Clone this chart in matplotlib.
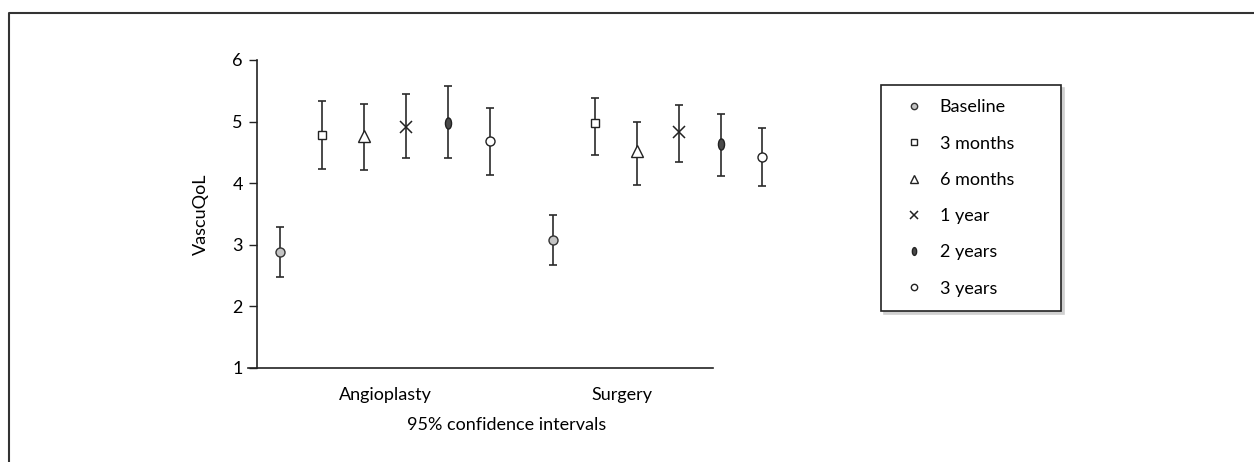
import numpy as np
import matplotlib
matplotlib.use("Agg")
import matplotlib.pyplot as plt
from matplotlib.path import Path
from matplotlib.transforms import Affine2D
from matplotlib.lines import Line2D

plt.rcParams['font.family'] = ['Lato', 'DejaVu Sans']

groups = ["Angioplasty", "Surgery"]
timepoints = ["Baseline", "3 months", "6 months", "1 year", "2 years", "3 years"]

# mean VascuQoL and 95% CI per timepoint, [angioplasty, surgery]
means = {
    "Baseline": [2.89, 3.08],
    "3 months": [4.78, 4.97],
    "6 months": [4.76, 4.52],
    "1 year":   [4.92, 4.83],
    "2 years":  [4.98, 4.63],
    "3 years":  [4.68, 4.42],
}
lower = {
    "Baseline": [2.48, 2.67],
    "3 months": [4.23, 4.46],
    "6 months": [4.21, 3.97],
    "1 year":   [4.41, 4.35],
    "2 years":  [4.41, 4.11],
    "3 years":  [4.13, 3.95],
}
upper = {
    "Baseline": [3.29, 3.48],
    "3 months": [5.33, 5.39],
    "6 months": [5.29, 4.99],
    "1 year":   [5.44, 5.27],
    "2 years":  [5.57, 5.13],
    "3 years":  [5.22, 4.89],
}

# narrow upright ellipse for the 2-year marker
ellipse = Path.unit_circle().transformed(Affine2D().scale(0.55, 1.0))

styles = {
    "Baseline": dict(marker="o", ms=6.5, mfc="#c4c4c4", mec="#333333"),
    "3 months": dict(marker="s", ms=6, mfc="white", mec="#222222"),
    "6 months": dict(marker="^", ms=9, mfc="white", mec="#222222"),
    "1 year":   dict(marker="x", ms=8, mfc="none", mec="#222222", mew=1.1),
    "2 years":  dict(marker=ellipse, ms=8, mfc="#4a4a4a", mec="#222222"),
    "3 years":  dict(marker="o", ms=6.5, mfc="white", mec="#222222"),
}

fig = plt.figure(figsize=(12.54, 4.62), dpi=100)
ax = fig.add_axes([248 / 1254, 94 / 462, 535 / 1254, 308 / 462])

group_start = [0.0, 6.5]
handles = []
for i, tp in enumerate(timepoints):
    xs = [g + i for g in group_start]
    m = np.array(means[tp])
    err = np.array([m - np.array(lower[tp]), np.array(upper[tp]) - m])
    ax.errorbar(xs, m, yerr=err, fmt="none", ecolor="#2b2b2b",
                elinewidth=1.2, capsize=3, capthick=1.2, zorder=2)
    ax.plot(xs, m, linestyle="none", zorder=3, **styles[tp])
    handles.append(Line2D([], [], linestyle="none", label=tp, **styles[tp]))

ax.set_xlim(-0.77, 11.99)
ax.set_ylim(1, 6)
ax.set_yticks([1, 2, 3, 4, 5, 6])
ax.set_xticks([2.5, 8.15])
ax.set_xticklabels(groups)
ax.tick_params(axis="x", length=0, pad=14, labelsize=13)
ax.tick_params(axis="y", length=6, width=1, pad=4, labelsize=13, color="#222222")

for side in ["top", "right"]:
    ax.spines[side].set_visible(False)
ax.spines["left"].set_position(("data", -0.56))
ax.spines["bottom"].set_bounds(-0.77, 10.33)
for side in ["left", "bottom"]:
    ax.spines[side].set_linewidth(1.2)
    ax.spines[side].set_color("#222222")

ax.set_ylabel("VascuQoL", fontsize=13, labelpad=17)
ax.set_xlabel("95% confidence intervals", fontsize=13)
ax.xaxis.set_label_coords(0.4836, -0.16)

leg = fig.legend(handles=handles, loc="upper left",
                 bbox_to_anchor=(881 / 1254, (462 - 315) / 462, 180 / 1254, 230 / 462),
                 mode="expand", borderaxespad=0, frameon=True, fancybox=False,
                 shadow={"color": "#d0d0d0", "alpha": 1},
                 fontsize=13, markerscale=0.7, labelspacing=1.12,
                 handlelength=2.1, handletextpad=0.35, borderpad=0.8)
frame = leg.get_frame()
frame.set_edgecolor("#222222")
frame.set_linewidth(1.2)

# outer panel border along left and top
fig.add_artist(Line2D([9 / 1254, 9 / 1254, 1], [0, 1 - 13 / 462, 1 - 13 / 462],
                      transform=fig.transFigure, color="#333333", lw=1.5))

fig.savefig("out.png", dpi=100)
